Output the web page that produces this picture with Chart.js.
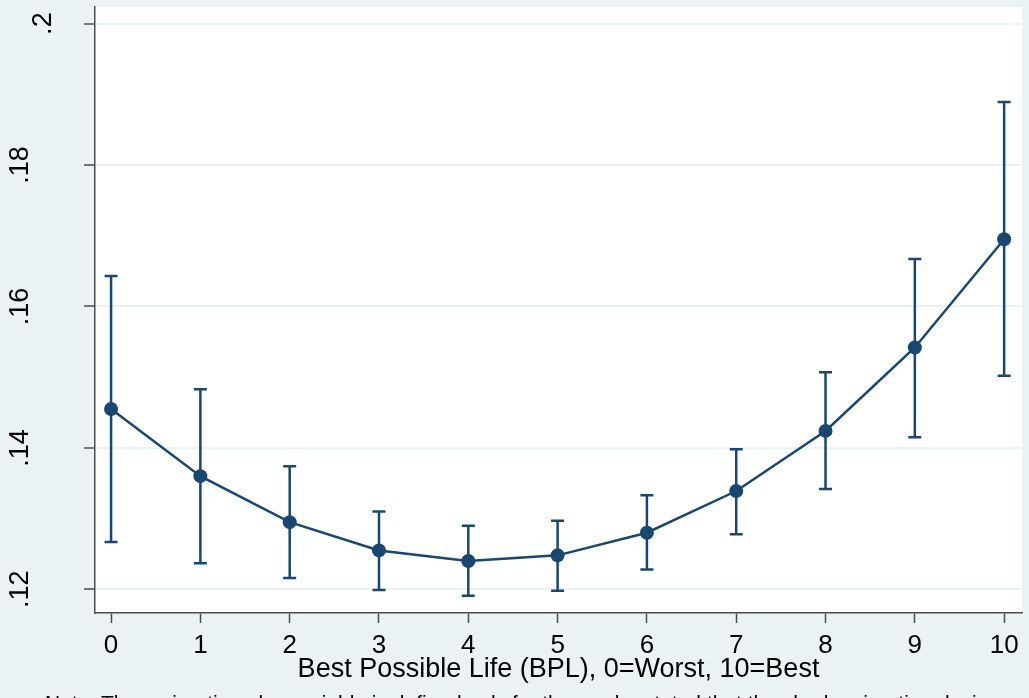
<!DOCTYPE html>
<html>
<head>
<meta charset="utf-8">
<script src="https://cdn.jsdelivr.net/npm/chart.js"></script>
<style>
  html, body { margin: 0; padding: 0; background: #eaf2f3; }
  #wrap { width: 1029px; height: 698px; }
</style>
</head>
<body>
<div id="wrap"><canvas id="bplChart"></canvas></div>
<script>
// data
var bplLevels = [0, 1, 2, 3, 4, 5, 6, 7, 8, 9, 10];
var meanValues = [0.1455, 0.1360, 0.1295, 0.1255, 0.1240, 0.1248, 0.1280, 0.1339, 0.1424, 0.1542, 0.1695];
var ciLower = [0.1267, 0.1237, 0.1216, 0.1199, 0.1191, 0.1198, 0.1228, 0.1278, 0.1342, 0.1415, 0.1502];
var ciUpper = [0.1643, 0.1483, 0.1374, 0.1310, 0.1290, 0.1297, 0.1333, 0.1398, 0.1507, 0.1667, 0.1889];
var yTickValues = [0.12, 0.14, 0.16, 0.18, 0.2];
var yTickLabels = ['.12', '.14', '.16', '.18', '.2'];
var xTitle = 'Best Possible Life (BPL), 0=Worst, 10=Best';
var noteText = 'Note: The emigration plan variable is defined only for those who stated that they had emigration desire';

var navy = '#1a476f';
var bgColor = '#eaf2f3';
var axisColor = '#4d4d4d';
var fontName = '"Liberation Sans", Arial, sans-serif';

// fondo: gris azulado fuera, blanco en el area del grafico
var background = {
  id: 'background',
  beforeDraw: function (chart) {
    var ctx = chart.ctx, a = chart.chartArea;
    ctx.save();
    ctx.fillStyle = bgColor;
    ctx.fillRect(0, 0, chart.width, chart.height);
    ctx.fillStyle = '#ffffff';
    ctx.fillRect(a.left, a.top, a.right - a.left, a.bottom - a.top);
    ctx.restore();
  }
};

// barras de intervalo de confianza
var errorBars = {
  id: 'errorBars',
  beforeDatasetsDraw: function (chart) {
    var ctx = chart.ctx, x = chart.scales.x, y = chart.scales.y;
    ctx.save();
    ctx.strokeStyle = navy;
    ctx.lineWidth = 2.5;
    for (var i = 0; i < bplLevels.length; i++) {
      var px = x.getPixelForValue(bplLevels[i]);
      var top = y.getPixelForValue(ciUpper[i]);
      var bot = y.getPixelForValue(ciLower[i]);
      ctx.beginPath();
      ctx.moveTo(px, top); ctx.lineTo(px, bot);
      ctx.moveTo(px - 6.5, top); ctx.lineTo(px + 6.5, top);
      ctx.moveTo(px - 6.5, bot); ctx.lineTo(px + 6.5, bot);
      ctx.stroke();
    }
    ctx.restore();
  }
};

// etiquetas del eje y giradas, como en Stata
var yLabels = {
  id: 'yLabels',
  afterDraw: function (chart) {
    var ctx = chart.ctx, y = chart.scales.y;
    ctx.save();
    ctx.fillStyle = '#000';
    ctx.font = '27px ' + fontName;
    ctx.textAlign = 'center';
    ctx.textBaseline = 'alphabetic';
    for (var i = 0; i < yTickValues.length; i++) {
      var lab = yTickLabels[i];
      var bx = 28 + (3 - lab.length) * 23;
      ctx.save();
      ctx.translate(bx, y.getPixelForValue(yTickValues[i]));
      ctx.rotate(-Math.PI / 2);
      ctx.fillText(lab, 0, 0);
      ctx.restore();
    }
    // nota al pie (cortada por el borde)
    ctx.font = '21px ' + fontName;
    ctx.textAlign = 'left';
    ctx.fillText(noteText, 45, 710);
    ctx.restore();
  }
};

var ctx = document.getElementById('bplChart').getContext('2d');
var bplChart = new Chart(ctx, {
  type: 'line',
  data: {
    datasets: [{
      data: bplLevels.map(function (b, i) { return { x: b, y: meanValues[i] }; }),
      borderColor: navy,
      backgroundColor: navy,
      borderWidth: 2.5,
      pointRadius: 7,
      pointBackgroundColor: navy,
      pointBorderWidth: 0,
      tension: 0
    }]
  },
  options: {
    responsive: true,
    maintainAspectRatio: false,
    animation: false,
    layout: { padding: { top: 7, right: 3, left: 0, bottom: 0 } },
    plugins: { legend: { display: false }, tooltip: { enabled: false } },
    scales: {
      x: {
        type: 'linear',
        min: -0.18,
        max: 10.2,
        afterBuildTicks: function (s) { s.ticks = bplLevels.map(function (v) { return { value: v }; }); },
        afterFit: function (s) { s.height = 85; },
        ticks: {
          color: '#000',
          font: { family: fontName, size: 26 },
          padding: 7,
          maxRotation: 0,
          callback: function (v) { return String(v); }
        },
        grid: { drawOnChartArea: false, drawTicks: true, tickLength: 10, tickColor: axisColor, tickWidth: 1.5 },
        border: { display: true, color: axisColor, width: 1.5 },
        title: {
          display: true,
          text: xTitle,
          color: '#000',
          font: { family: fontName, size: 27 },
          padding: { top: 0, bottom: 12 }
        }
      },
      y: {
        min: 0.11665,
        max: 0.20235,
        afterBuildTicks: function (s) { s.ticks = yTickValues.map(function (v) { return { value: v }; }); },
        afterFit: function (s) { s.width = 95; },
        ticks: { display: false },
        grid: { color: bgColor, lineWidth: 2, drawTicks: true, tickLength: 11, tickColor: axisColor, tickWidth: 1.5 },
        border: { display: true, color: axisColor, width: 1.5 }
      }
    }
  },
  plugins: [background, errorBars, yLabels]
});
</script>
</body>
</html>
